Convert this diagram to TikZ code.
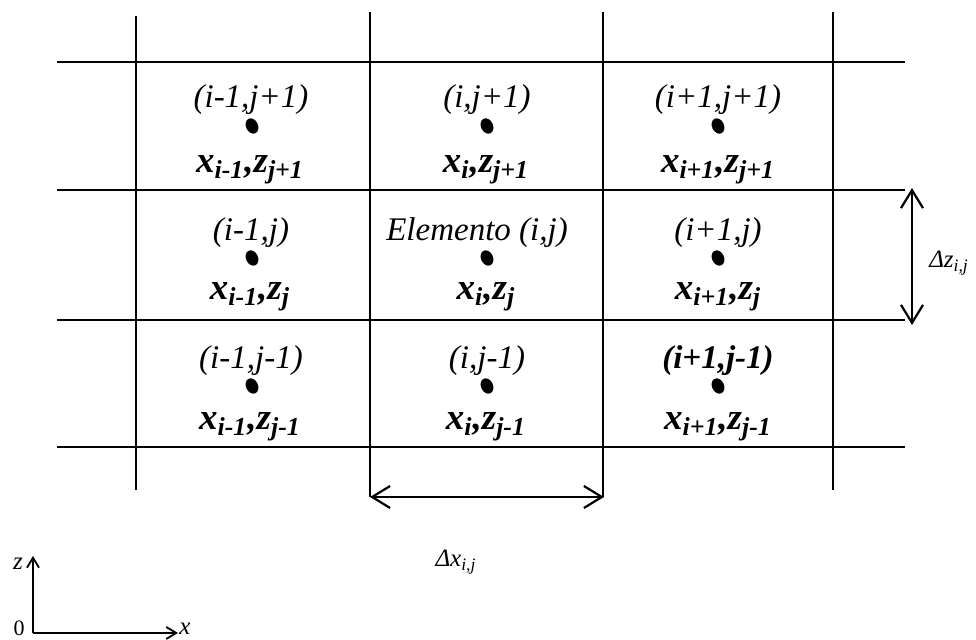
\documentclass[tikz,border=0pt]{standalone}
\usepackage{fontspec}
\setmainfont{Liberation Serif}
\usetikzlibrary{arrows.meta}
\begin{document}
\begin{tikzpicture}[x=0.5pt,y=-0.5pt,
  gridline/.style={line width=1.1pt,black},
  dim/.style={line width=1.1pt,{Straight Barb[length=9pt,width=11pt,line width=1.1pt]}-{Straight Barb[length=9pt,width=11pt,line width=1.1pt]}},
  axis/.style={line width=0.9pt,-{Straight Barb[length=5pt,width=6pt,line width=0.9pt]}},
  cellname/.style={font=\fontsize{16.5}{18}\selectfont\itshape,inner sep=0pt},
  coordlbl/.style={font=\fontsize{18.5}{20}\selectfont\bfseries\itshape,inner sep=0pt},
  dimlbl/.style={font=\fontsize{12.5}{14}\selectfont\itshape,inner sep=0pt},
  ptdot/.style={fill=black,draw=none}]
\useasboundingbox (0,0) rectangle (976,640);
% grid
\draw[gridline] (136,16) -- (136,490);
\draw[gridline] (370,12) -- (370,497);
\draw[gridline] (603,12) -- (603,497);
\draw[gridline] (833,12) -- (833,490);
\foreach \y in {62,190,320,447} \draw[gridline] (57,\y) -- (905,\y);
% cell names
\node[cellname] (n11) at (251,100) {(i-1,j+1)};
\node[cellname] (n12) at (487,100) {(i,j+1)};
\node[cellname] (n13) at (718,100) {(i+1,j+1)};
\node[cellname] (n21) at (251,233) {(i-1,j)};
\node[cellname] (n22) at (477,233) {Elemento (i,j)};
\node[cellname] (n23) at (718,233) {(i+1,j)};
\node[cellname] (n31) at (251,361) {(i-1,j-1)};
\node[cellname] (n32) at (487,361) {(i,j-1)};
\node[cellname,font=\fontsize{16.5}{18}\selectfont\bfseries\itshape] (n33) at (718,361) {(i+1,j-1)};
% dots
\foreach \cx/\cy in {252/126,487/126,718/126,252/258,487/258,718/258,252/386,487/386,718/386}
  \fill[ptdot,rotate around={25:(\cx,\cy)}] (\cx,\cy) ellipse [x radius=6, y radius=8];
% coordinates
\node[coordlbl] (c11) at (250,170) {x\textsubscript{i-1},z\textsubscript{j+1}};
\node[coordlbl] (c12) at (486,170) {x\textsubscript{i},z\textsubscript{j+1}};
\node[coordlbl] (c13) at (718,170) {x\textsubscript{i+1},z\textsubscript{j+1}};
\node[coordlbl] (c21) at (250,297) {x\textsubscript{i-1},z\textsubscript{j}};
\node[coordlbl] (c22) at (486,297) {x\textsubscript{i},z\textsubscript{j}};
\node[coordlbl] (c23) at (718,297) {x\textsubscript{i+1},z\textsubscript{j}};
\node[coordlbl] (c31) at (250,427) {x\textsubscript{i-1},z\textsubscript{j-1}};
\node[coordlbl] (c32) at (486,427) {x\textsubscript{i},z\textsubscript{j-1}};
\node[coordlbl] (c33) at (718,427) {x\textsubscript{i+1},z\textsubscript{j-1}};
% dimension arrows
\coordinate (dzt) at (912,188);
\coordinate (dzb) at (912,325);
\draw[dim] (dzt) -- (dzb);
\node[dimlbl] (dzl) at (949,263) {Δz\textsubscript{i,j}};
\coordinate (dxl) at (370,497);
\coordinate (dxr) at (604,497);
\draw[dim] (dxl) -- (dxr);
\node[dimlbl] (dxlbl) at (456,562) {Δx\textsubscript{i,j}};
% axes
\coordinate (o) at (33,633);
\coordinate (zt) at (33,556);
\coordinate (xt) at (178,633);
\draw[axis] (o) -- (zt);
\draw[axis] (o) -- (xt);
\node[dimlbl,font=\fontsize{11}{12}\selectfont] (ol) at (19,628) {0};
\node[dimlbl] (zl) at (18,564) {z};
\node[dimlbl] (xl) at (185,629) {x};
\end{tikzpicture}
\end{document}
